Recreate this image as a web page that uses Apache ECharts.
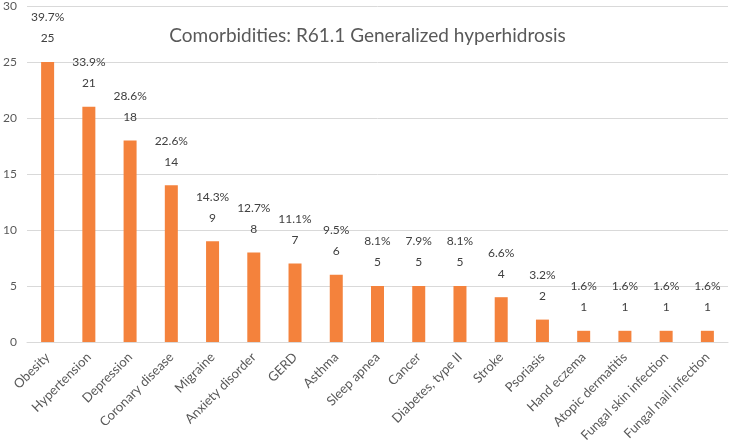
<!DOCTYPE html>
<html><head><meta charset="utf-8">
<script src="https://cdn.jsdelivr.net/npm/echarts@6/dist/echarts.min.js"></script>
<style>html,body{margin:0;padding:0;background:#fff}#c{width:735px;height:448px}</style>
</head><body><div id="c"></div>
<script>
const categories = ["Obesity","Hypertension","Depression","Coronary disease","Migraine","Anxiety disorder","GERD","Asthma","Sleep apnea","Cancer","Diabetes, type II","Stroke","Psoriasis","Hand eczema","Atopic dermatitis","Fungal skin infection","Fungal nail infection"];
const counts = [25,21,18,14,9,8,7,6,5,5,5,4,2,1,1,1,1];
const percents = ["39.7%","33.9%","28.6%","22.6%","14.3%","12.7%","11.1%","9.5%","8.1%","7.9%","8.1%","6.6%","3.2%","1.6%","1.6%","1.6%","1.6%"];
const yTicks = [0,5,10,15,20,25,30];
const FONT = "Lato";
const chart = echarts.init(document.getElementById('c'));
chart.setOption({
  animation:false,
  title:{text:"Comorbidities: R61.1 Generalized hyperhidrosis",left:'center',top:21,
    textStyle:{fontFamily:FONT,fontSize:19,fontWeight:'normal',color:'#595959'}},
  grid:{left:27,right:7,top:6,bottom:106,containLabel:false},
  xAxis:{type:'category',data:categories,
    axisLine:{lineStyle:{color:'#d9d9d9'}},axisTick:{show:false},
    axisLabel:{rotate:45,interval:0,fontFamily:FONT,fontSize:13,color:'#595959',margin:13}},
  yAxis:{type:'value',min:yTicks[0],max:yTicks[yTicks.length-1],interval:5,
    axisLine:{show:false},axisTick:{show:false},
    splitLine:{lineStyle:{color:'#d9d9d9'}},
    axisLabel:{fontFamily:FONT,fontSize:12,color:'#595959',margin:10}},
  series:[{type:'bar',data:counts,barWidth:13,itemStyle:{color:'#f4823c'},
    label:{show:true,position:'top',distance:13,fontFamily:FONT,fontSize:12,color:'#404040',lineHeight:21,
      formatter:p=>percents[p.dataIndex]+"\n"+p.value}}]
});
</script></body></html>
